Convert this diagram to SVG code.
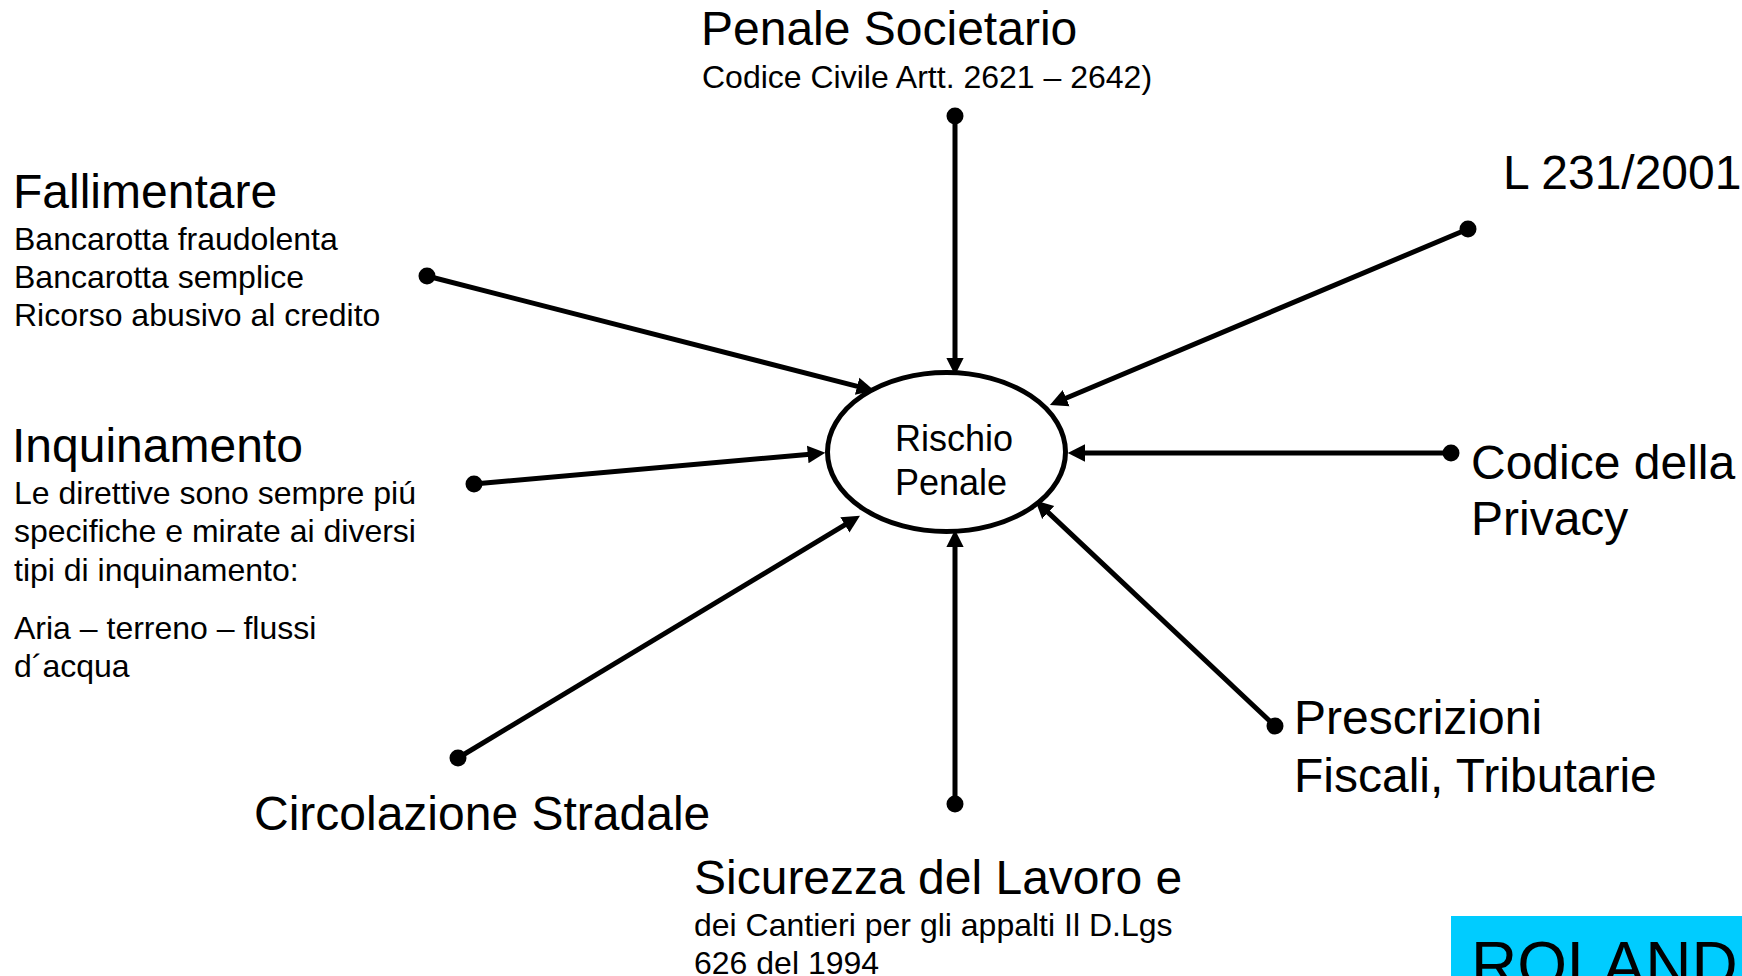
<svg xmlns="http://www.w3.org/2000/svg" width="1742" height="976" viewBox="0 0 1742 976">
<style>
text{font-family:"Liberation Sans",Arial,sans-serif;fill:#000}
.t{font-size:48px}
.s{font-size:32px}
.c{font-size:36px}
.ln{stroke:#000;stroke-width:5;fill:none}
.dot{fill:#000}
</style>
<defs>
<marker id="ah" markerUnits="userSpaceOnUse" markerWidth="20" markerHeight="20" viewBox="0 -8 17 16" refX="2" refY="0" orient="auto">
<path d="M0,-7.5 L15,0 L0,7.5 z" fill="#000"/>
</marker>
</defs>
<rect width="1742" height="976" fill="#fff"/>
<g id="connectors">
<line class="ln" x1="955" y1="116" x2="955" y2="360" marker-end="url(#ah)"/>
<line class="ln" x1="427" y1="276" x2="859.4" y2="386.8" marker-end="url(#ah)"/>
<line class="ln" x1="1468" y1="229" x2="1064" y2="399" marker-end="url(#ah)"/>
<line class="ln" x1="474" y1="484" x2="810.1" y2="454.2" marker-end="url(#ah)"/>
<line class="ln" x1="1451" y1="453" x2="1083" y2="453" marker-end="url(#ah)"/>
<line class="ln" x1="458" y1="758" x2="846.9" y2="523.7" marker-end="url(#ah)"/>
<line class="ln" x1="955" y1="804" x2="955" y2="545" marker-end="url(#ah)"/>
<line class="ln" x1="1275" y1="726" x2="1046.5" y2="510.9" marker-end="url(#ah)"/>
<circle class="dot" cx="955" cy="116" r="8.5"/>
<circle class="dot" cx="427" cy="276" r="8.5"/>
<circle class="dot" cx="1468" cy="229" r="8.5"/>
<circle class="dot" cx="474" cy="484" r="8.5"/>
<circle class="dot" cx="1451" cy="453" r="8.5"/>
<circle class="dot" cx="458" cy="758" r="8.5"/>
<circle class="dot" cx="955" cy="804" r="8.5"/>
<circle class="dot" cx="1275" cy="726" r="8.5"/>
</g>
<g id="rischio">
<ellipse cx="946.5" cy="452" rx="119" ry="79.5" fill="#fff" stroke="#000" stroke-width="5"/>
<text class="c" x="895" y="451">Rischio</text>
<text class="c" x="895" y="495">Penale</text>
</g>
<g id="penale-societario">
<text class="t" x="701" y="45">Penale Societario</text>
<text class="s" x="702" y="88">Codice Civile Artt. 2621 – 2642)</text>
</g>
<g id="fallimentare">
<text class="t" x="13" y="208">Fallimentare</text>
<text class="s" x="14" y="250">Bancarotta fraudolenta</text>
<text class="s" x="14" y="288">Bancarotta semplice</text>
<text class="s" x="14" y="326">Ricorso abusivo al credito</text>
</g>
<g id="l231">
<text class="t" x="1503" y="189">L 231/2001</text>
</g>
<g id="inquinamento">
<text class="t" x="12" y="462">Inquinamento</text>
<text class="s" x="14" y="504">Le direttive sono sempre piú</text>
<text class="s" x="14" y="542">specifiche e mirate ai diversi</text>
<text class="s" x="14" y="581">tipi di inquinamento:</text>
<text class="s" x="14" y="639">Aria – terreno – flussi</text>
<text class="s" x="14" y="677">d´acqua</text>
</g>
<g id="privacy">
<text class="t" x="1471" y="479">Codice della</text>
<text class="t" x="1471" y="535">Privacy</text>
</g>
<g id="prescrizioni">
<text class="t" x="1294" y="734">Prescrizioni</text>
<text class="t" x="1294" y="792">Fiscali, Tributarie</text>
</g>
<g id="circolazione">
<text class="t" x="254" y="830">Circolazione Stradale</text>
</g>
<g id="sicurezza">
<text class="t" x="694" y="894">Sicurezza del Lavoro e</text>
<text class="s" x="694" y="936">dei Cantieri per gli appalti Il D.Lgs</text>
<text class="s" x="694" y="974">626 del 1994</text>
</g>
<g id="roland">
<rect x="1451" y="916" width="291" height="60" fill="#00CCFF"/>
<text x="1471" y="987" style="font-size:64px">ROLAND</text>
</g>
</svg>
